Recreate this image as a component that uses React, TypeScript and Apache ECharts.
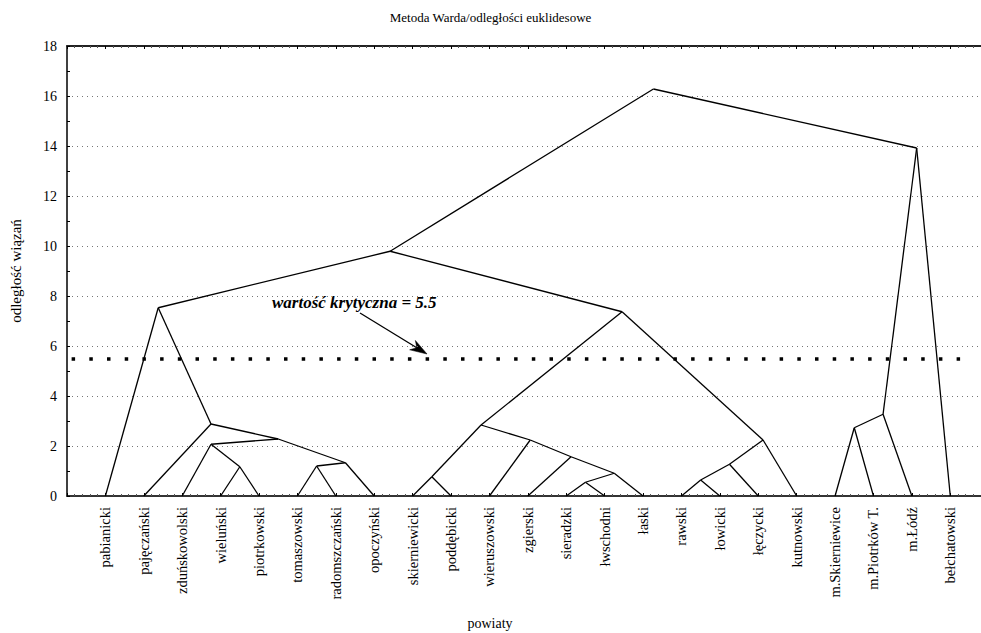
import React, { useEffect, useRef } from 'react';
import * as echarts from 'echarts';

// Leaves of the dendrogram, left to right
const powiaty = [
  'pabianicki', 'pajęczański', 'zduńskowolski', 'wieluński', 'piotrkowski',
  'tomaszowski', 'radomszczański', 'opoczyński', 'skierniewicki', 'poddębicki',
  'wieruszowski', 'zgierski', 'sieradzki', 'łwschodni', 'łaski', 'rawski',
  'łowicki', 'łęczycki', 'kutnowski', 'm.Skierniewice', 'm.Piotrków T.',
  'm.Łódź', 'bełchatowski',
];

// Agglomeration steps (Ward): ids 0..22 are leaves, id 23 + k is the cluster built at step k
const mergeLeft = [12, 15, 8, 23, 3, 5, 24, 28, 11, 2, 10, 29, 32, 19, 25, 1, 36, 37, 0, 41, 39, 42];
const mergeRight = [13, 16, 9, 14, 4, 6, 17, 7, 26, 27, 31, 18, 30, 20, 33, 35, 21, 34, 38, 40, 22, 43];
const mergeHeights = [
  0.55, 0.64, 0.77, 0.91, 1.17, 1.2, 1.27, 1.33, 1.57, 2.07, 2.24,
  2.24, 2.28, 2.73, 2.84, 2.88, 3.27, 7.37, 7.53, 9.79, 13.92, 16.28,
];

const criticalValue = 5.5;
const criticalSpan = [0.12, 23.55];

const yMin = 0;
const yMax = 18;
const yStep = 2;

const FONT = "'Liberation Serif', 'Times New Roman', serif";

export default function App() {
  const ref = useRef<HTMLDivElement>(null);

  useEffect(() => {
    const el = ref.current;
    if (!el) return;
    const chart = echarts.init(el, null, { renderer: 'svg' });

    // node positions: leaves sit at 1..n, a cluster sits midway between its two children
    const nodeX: number[] = powiaty.map((_, i) => i + 1);
    const nodeY: number[] = powiaty.map(() => 0);
    const links: { coords: number[][] }[] = [];
    mergeHeights.forEach((h, k) => {
      const a = mergeLeft[k];
      const b = mergeRight[k];
      const x = (nodeX[a] + nodeX[b]) / 2;
      nodeX.push(x);
      nodeY.push(h);
      links.push({ coords: [[nodeX[a], nodeY[a]], [x, h]] });
      links.push({ coords: [[nodeX[b], nodeY[b]], [x, h]] });
    });

    const xMax = 23.8;

    // arrow of the annotation
    const from = [360, 313];
    const tip = [427, 354];
    const dx = tip[0] - from[0];
    const dy = tip[1] - from[1];
    const len = Math.hypot(dx, dy);
    const ux = dx / len;
    const uy = dy / len;
    const px = -uy;
    const py = ux;
    const headLen = 17;
    const headHalf = 5.5;
    const notch = 12;
    const head = [
      [tip[0], tip[1]],
      [tip[0] - headLen * ux + headHalf * px, tip[1] - headLen * uy + headHalf * py],
      [tip[0] - notch * ux, tip[1] - notch * uy],
      [tip[0] - headLen * ux - headHalf * px, tip[1] - headLen * uy - headHalf * py],
    ];

    chart.setOption({
      animation: false,
      backgroundColor: '#fff',
      textStyle: { fontFamily: FONT },
      title: {
        text: 'Metoda Warda/odległości euklidesowe',
        left: 'center',
        top: 6,
        textStyle: { fontFamily: FONT, fontSize: 13, fontWeight: 'normal', color: '#000' },
      },
      grid: { left: 67, right: 0, top: 46, bottom: 137, containLabel: false },
      xAxis: [
        {
          type: 'value',
          position: 'bottom',
          min: 0,
          max: xMax,
          interval: 1,
          axisLine: { show: true, lineStyle: { color: '#333', width: 2 } },
          axisTick: { show: true, inside: true, length: 3, lineStyle: { color: '#000' } },
          minorTick: { show: true, splitNumber: 5, length: 2, lineStyle: { color: '#555' } },
          splitLine: { show: false },
          axisLabel: {
            rotate: 90,
            margin: 11,
            fontSize: 14.5,
            fontFamily: FONT,
            color: '#000',
            showMinLabel: false,
            showMaxLabel: false,
            formatter: (v: number) => (Number.isInteger(v) ? powiaty[v - 1] ?? '' : ''),
          },
        },
        {
          type: 'value',
          position: 'top',
          min: 0,
          max: xMax,
          interval: 1,
          axisLine: { show: true, lineStyle: { color: '#222', width: 2 } },
          axisTick: { show: true, inside: true, length: 3, lineStyle: { color: '#000' } },
          minorTick: { show: true, splitNumber: 5, length: 2, lineStyle: { color: '#555' } },
          splitLine: { show: false },
          axisLabel: { show: false },
        },
      ],
      yAxis: {
        type: 'value',
        min: yMin,
        max: yMax,
        interval: yStep,
        axisLine: { show: true, lineStyle: { color: '#000', width: 1.5 } },
        axisTick: { show: true, inside: true, length: 3, lineStyle: { color: '#000' } },
        minorTick: { show: true, splitNumber: 2, length: 3, lineStyle: { color: '#000' } },
        axisLabel: { margin: 10, fontSize: 14, fontFamily: FONT, color: '#000' },
        splitLine: {
          show: true,
          lineStyle: { color: '#777', width: 1, type: [1, 4] },
        },
      },
      series: [
        {
          type: 'lines',
          coordinateSystem: 'cartesian2d',
          xAxisIndex: 0,
          yAxisIndex: 0,
          silent: true,
          polyline: false,
          lineStyle: { color: '#000', width: 1.3, opacity: 1 },
          data: links,
        },
        {
          type: 'lines',
          coordinateSystem: 'cartesian2d',
          xAxisIndex: 0,
          yAxisIndex: 0,
          silent: true,
          lineStyle: { color: '#000', width: 3.5, opacity: 1, type: [3.5, 14.2], cap: 'butt' },
          data: [{ coords: [[criticalSpan[0], criticalValue], [criticalSpan[1], criticalValue]] }],
        },
      ],
      graphic: [
        {
          type: 'text',
          x: 272,
          y: 302,
          style: {
            text: 'wartość krytyczna = 5.5',
            font: `italic bold 17px ${FONT}`,
            fill: '#000',
            verticalAlign: 'middle',
            align: 'left',
          },
        },
        {
          type: 'line',
          shape: { x1: from[0], y1: from[1], x2: tip[0] - notch * ux, y2: tip[1] - notch * uy },
          style: { stroke: '#000', lineWidth: 1.3 },
        },
        {
          type: 'polygon',
          shape: { points: head },
          style: { fill: '#000', stroke: '#000', lineWidth: 0.5 },
        },
        {
          type: 'text',
          x: 16,
          y: 271,
          rotation: Math.PI / 2,
          style: {
            text: 'odległość wiązań',
            font: `15px ${FONT}`,
            fill: '#000',
            align: 'center',
            verticalAlign: 'middle',
          },
        },
        {
          type: 'text',
          x: 490,
          y: 623,
          style: {
            text: 'powiaty',
            font: `14px ${FONT}`,
            fill: '#000',
            align: 'center',
            verticalAlign: 'middle',
          },
        },
      ],
    });

    return () => chart.dispose();
  }, []);

  return (
    <div
      ref={ref}
      style={{ position: 'absolute', left: 0, top: 0, width: 981, height: 633, background: '#fff' }}
    />
  );
}
